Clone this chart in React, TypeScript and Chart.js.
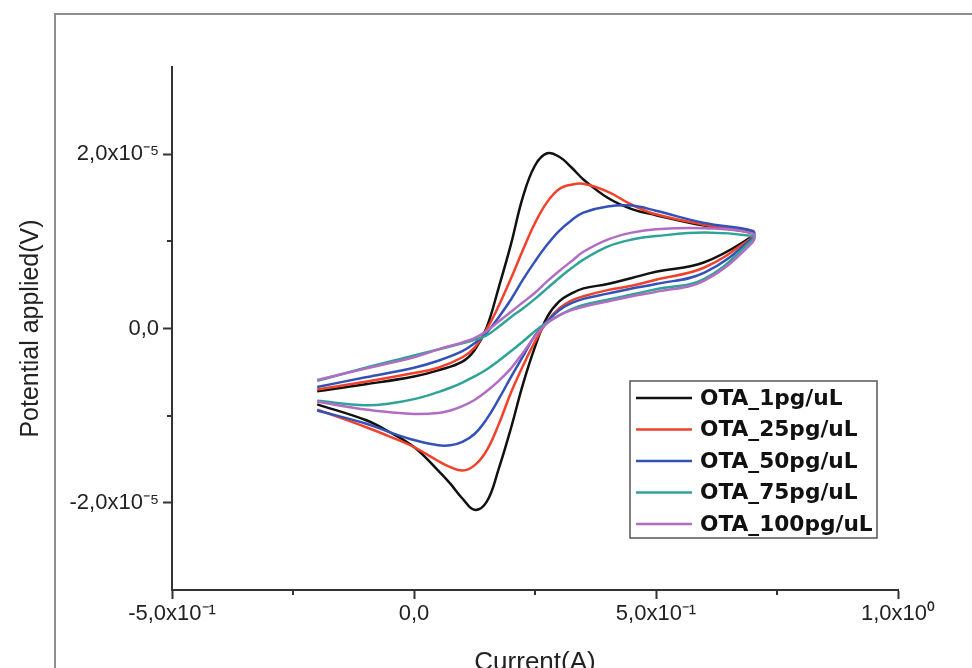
import React, { useEffect, useRef } from 'react';
import { Chart, registerables } from 'chart.js';

Chart.register(...registerables);

// Scan potentials (forward sweep, then reverse sweep)
const SCAN_FWD = [-0.2, -0.1, 0, 0.05, 0.1, 0.125, 0.15, 0.175, 0.2, 0.225, 0.25, 0.275, 0.3, 0.325, 0.35, 0.4, 0.45, 0.5, 0.6, 0.7];
const SCAN_REV = [0.7, 0.6, 0.5, 0.45, 0.4, 0.35, 0.325, 0.3, 0.275, 0.25, 0.225, 0.2, 0.175, 0.15, 0.125, 0.1, 0.075, 0.05, 0, -0.05, -0.1, -0.2];

// Series values, in units of 1e-5
const OTA1_FWD = [-0.72, -0.64, -0.55, -0.48, -0.38, -0.25, 0.01, 0.47, 0.96, 1.51, 1.87, 2.01, 1.97, 1.85, 1.71, 1.50, 1.37, 1.30, 1.18, 1.10];
const OTA1_REV = [1.06, 0.76, 0.65, 0.58, 0.51, 0.46, 0.40, 0.31, 0.13, -0.21, -0.64, -1.15, -1.61, -1.99, -2.08, -1.95, -1.78, -1.63, -1.36, -1.19, -1.05, -0.87];
const OTA25_FWD = [-0.70, -0.61, -0.51, -0.45, -0.33, -0.22, -0.01, 0.26, 0.57, 0.90, 1.21, 1.45, 1.60, 1.65, 1.66, 1.57, 1.42, 1.31, 1.19, 1.09];
const OTA25_REV = [1.05, 0.70, 0.56, 0.49, 0.44, 0.37, 0.32, 0.23, 0.08, -0.15, -0.43, -0.74, -1.10, -1.40, -1.57, -1.63, -1.59, -1.52, -1.36, -1.24, -1.13, -0.93];
const OTA50_FWD = [-0.67, -0.56, -0.45, -0.37, -0.26, -0.17, -0.05, 0.13, 0.33, 0.56, 0.77, 0.96, 1.12, 1.24, 1.33, 1.40, 1.41, 1.35, 1.21, 1.12];
const OTA50_REV = [1.04, 0.64, 0.51, 0.46, 0.40, 0.34, 0.29, 0.21, 0.08, -0.08, -0.32, -0.56, -0.81, -1.04, -1.21, -1.30, -1.34, -1.34, -1.28, -1.19, -1.09, -0.94];
const OTA75_FWD = [-0.60, -0.45, -0.31, -0.24, -0.17, -0.13, -0.08, 0.02, 0.13, 0.23, 0.34, 0.46, 0.58, 0.69, 0.79, 0.94, 1.02, 1.06, 1.10, 1.06];
const OTA75_REV = [1.02, 0.57, 0.45, 0.39, 0.33, 0.27, 0.22, 0.15, 0.07, -0.03, -0.15, -0.26, -0.37, -0.47, -0.55, -0.62, -0.68, -0.73, -0.81, -0.86, -0.88, -0.83];
const OTA100_FWD = [-0.59, -0.46, -0.33, -0.24, -0.16, -0.11, -0.03, 0.08, 0.19, 0.30, 0.41, 0.54, 0.66, 0.77, 0.88, 1.02, 1.10, 1.14, 1.15, 1.09];
const OTA100_REV = [0.99, 0.55, 0.42, 0.37, 0.31, 0.25, 0.21, 0.15, 0.06, -0.09, -0.28, -0.46, -0.60, -0.72, -0.82, -0.89, -0.94, -0.97, -0.98, -0.96, -0.93, -0.84];

const SERIES_LABELS = ['OTA_1pg/uL', 'OTA_25pg/uL', 'OTA_50pg/uL', 'OTA_75pg/uL', 'OTA_100pg/uL'];
const SERIES_FWD = [OTA1_FWD, OTA25_FWD, OTA50_FWD, OTA75_FWD, OTA100_FWD];
const SERIES_REV = [OTA1_REV, OTA25_REV, OTA50_REV, OTA75_REV, OTA100_REV];
const SERIES_COLORS = ['#111111', '#f2412b', '#3352b8', '#2fa396', '#b16dc4'];

const X_TICKS = [-0.5, 0, 0.5, 1.0];
const X_TICK_LABELS = ['-5,0x10⁻¹', '0,0', '5,0x10⁻¹', '1,0x10⁰'];
const X_MINOR = [-0.25, 0.25, 0.75];
const Y_TICKS = [-2e-5, 0, 2e-5];
const Y_TICK_LABELS = ['-2,0x10⁻⁵', '0,0', '2,0x10⁻⁵'];
const Y_MINOR = [-1e-5, 1e-5];

const AXIS_COLOR = '#333333';
const TEXT_COLOR = '#222222';

const minorTicksPlugin = {
  id: 'minorTicks',
  afterDraw(chart: any) {
    const { ctx, chartArea, scales } = chart;
    ctx.save();
    ctx.strokeStyle = AXIS_COLOR;
    ctx.lineWidth = 2;
    ctx.beginPath();
    X_MINOR.forEach((v) => {
      const px = Math.round(scales.x.getPixelForValue(v));
      ctx.moveTo(px, chartArea.bottom);
      ctx.lineTo(px, chartArea.bottom + 5);
    });
    Y_MINOR.forEach((v) => {
      const py = Math.round(scales.y.getPixelForValue(v));
      ctx.moveTo(chartArea.left - 5, py);
      ctx.lineTo(chartArea.left, py);
    });
    ctx.stroke();
    ctx.restore();
  },
};

const boxLegendPlugin = {
  id: 'boxLegend',
  afterDatasetsDraw(chart: any) {
    const { ctx } = chart;
    const left = 630, top = 381, width = 247, height = 157;
    ctx.save();
    ctx.fillStyle = '#ffffff';
    ctx.fillRect(left, top, width, height);
    ctx.strokeStyle = '#555555';
    ctx.lineWidth = 1.5;
    ctx.strokeRect(left, top, width, height);
    ctx.font = 'bold 21.7px "DejaVu Sans"';
    ctx.textBaseline = 'middle';
    ctx.textAlign = 'left';
    chart.data.datasets.forEach((ds: any, i: number) => {
      const y = 398 + i * 31.5;
      ctx.strokeStyle = ds.borderColor;
      ctx.lineWidth = 2.5;
      ctx.beginPath();
      ctx.moveTo(636, y);
      ctx.lineTo(692, y);
      ctx.stroke();
      ctx.fillStyle = '#111111';
      ctx.fillText(ds.label, 700, y + 1);
    });
    ctx.restore();
  },
};

export default function App() {
  const canvasRef = useRef<HTMLCanvasElement | null>(null);

  useEffect(() => {
    if (!canvasRef.current) return;
    const datasets = SERIES_LABELS.map((label, s) => ({
      label,
      data: SCAN_FWD.map((x, i) => ({ x, y: SERIES_FWD[s][i] * 1e-5 })).concat(
        SCAN_REV.map((x, i) => ({ x, y: SERIES_REV[s][i] * 1e-5 }))
      ),
      borderColor: SERIES_COLORS[s],
      backgroundColor: SERIES_COLORS[s],
      showLine: true,
      pointRadius: 0,
      borderWidth: 2.5,
      tension: 0.4,
      fill: false,
      order: SERIES_LABELS.length - s,
    }));

    const chart = new Chart(canvasRef.current, {
      type: 'scatter',
      data: { datasets },
      plugins: [minorTicksPlugin, boxLegendPlugin],
      options: {
        responsive: false,
        animation: false,
        events: [],
        layout: { padding: { top: 67, right: 74, left: 0, bottom: 0 } },
        plugins: {
          legend: { display: false },
          tooltip: { enabled: false },
        },
        scales: {
          x: {
            type: 'linear',
            min: -0.5,
            max: 1.0,
            afterBuildTicks: (scale: any) => {
              scale.ticks = X_TICKS.map((v) => ({ value: v }));
            },
            afterFit: (scale: any) => {
              scale.height = 110;
            },
            ticks: {
              callback: (value: any) => X_TICK_LABELS[X_TICKS.indexOf(Number(value))] ?? '',
              font: { family: '"Liberation Sans", Arial', size: 22 },
              color: TEXT_COLOR,
              padding: 2,
              maxRotation: 0,
              autoSkip: false,
            },
            grid: {
              display: true,
              drawOnChartArea: false,
              drawTicks: true,
              tickLength: 9,
              tickWidth: 2,
              tickColor: AXIS_COLOR,
            },
            border: { display: true, color: AXIS_COLOR, width: 2 },
            title: {
              display: true,
              text: 'Current(A)',
              font: { family: '"Liberation Sans", Arial', size: 26 },
              color: TEXT_COLOR,
              padding: { top: 0, bottom: 22 },
            },
          },
          y: {
            type: 'linear',
            min: -3e-5,
            max: 3e-5,
            afterBuildTicks: (scale: any) => {
              scale.ticks = Y_TICKS.map((v) => ({ value: v }));
            },
            afterFit: (scale: any) => {
              scale.width = 172;
            },
            ticks: {
              callback: (value: any) => {
                const idx = Y_TICKS.findIndex((t) => Math.abs(t - Number(value)) < 1e-9);
                return idx >= 0 ? Y_TICK_LABELS[idx] : '';
              },
              font: { family: '"Liberation Sans", Arial', size: 22 },
              color: TEXT_COLOR,
              padding: 4,
              autoSkip: false,
            },
            grid: {
              display: true,
              drawOnChartArea: false,
              drawTicks: true,
              tickLength: 9,
              tickWidth: 2,
              tickColor: AXIS_COLOR,
            },
            border: { display: true, color: AXIS_COLOR, width: 2 },
            title: {
              display: true,
              text: 'Potential applied(V)',
              font: { family: '"Liberation Sans", Arial', size: 25 },
              color: TEXT_COLOR,
              padding: { top: 16, bottom: 0 },
            },
          },
        },
      } as any,
    });
    return () => chart.destroy();
  }, []);

  return (
    <div
      style={{
        position: 'absolute',
        left: 0,
        top: 0,
        width: 972,
        height: 668,
        overflow: 'hidden',
        background: '#ffffff',
      }}
    >
      <canvas ref={canvasRef} width={972} height={700} style={{ display: 'block', width: 972, height: 700 }} />
      <div
        style={{
          position: 'absolute',
          left: 54,
          top: 13,
          right: 0,
          bottom: 0,
          borderTop: '2px solid #8e8e8e',
          borderLeft: '2px solid #8e8e8e',
          pointerEvents: 'none',
        }}
      />
    </div>
  );
}
